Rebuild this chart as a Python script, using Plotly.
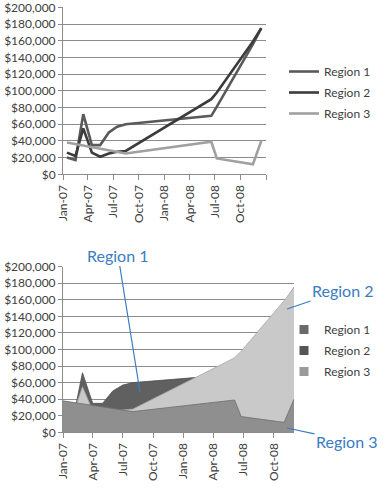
import plotly.graph_objects as go

# ---- data ----
dates = ["2007-01-15", "2007-02-15", "2007-03-15", "2007-04-15", "2007-05-15",
         "2007-06-15", "2007-07-15", "2007-08-15", "2008-06-18", "2008-07-08",
         "2008-11-15", "2008-12-15"]
region1 = [20000, 17000, 72000, 35000, 35000, 50000, 57000, 60000, 70000, 81000, 156000, 175000]
region2 = [26000, 22000, 55000, 26000, 21000, 25000, 27000, 28000, 90000, 98000, 159000, 175000]
region3 = [38000, 36000, 35000, 33000, 31000, 29000, 27000, 25000, 39000, 19000, 12000, 40000]
series_names = ["Region 1", "Region 2", "Region 3"]

top_tickvals = ["2007-01-01", "2007-04-01", "2007-07-01", "2007-10-01", "2008-01-01",
                "2008-04-01", "2008-07-01", "2008-10-01", "2009-01-01"]
top_ticktext = ["Jan-07", "Apr-07", "Jul-07", "Oct-07", "Jan-08", "Apr-08", "Jul-08", "Oct-08", ""]
bot_tickvals = ["2007-01-15", "2007-04-15", "2007-07-15", "2007-10-15", "2008-01-15",
                "2008-04-15", "2008-07-15", "2008-10-15"]
bot_ticktext = ["Jan-07", "Apr-07", "Jul-07", "Oct-07", "Jan-08", "Apr-08", "Jul-08", "Oct-08"]

W, H = 384, 491
def px(x): return min(1.0, max(0.0, x / W))
def py(y): return min(1.0, max(0.0, 1 - y / H))

FONT = "Lato"
TXT = "#404040"
GRID = "#8c8c8c"
BLUE = "#3a7cc2"

values = [region1, region2, region3]
line_colors = ["#5a5a5a", "#3c3c3c", "#a0a0a0"]
fill_colors = ["#606060", "#c9c9c9", "#8f8f8f"]
edge_colors = ["#505050", "#a8a8a8", "#6e6e6e"]
legend_sw = ["#6a6a6a", "#555555", "#9a9a9a"]

fig = go.Figure()

# top: line chart
for i, (name, vals, c) in enumerate(zip(series_names, values, line_colors)):
    fig.add_trace(go.Scatter(x=dates, y=vals, name=name, mode="lines",
                             line=dict(color=c, width=2.6), legendgroup=f"t{i}",
                             xaxis="x", yaxis="y", legend="legend"))

# bottom: overlapping area chart
for name, vals, fc, ec in zip(series_names, values, fill_colors, edge_colors):
    fig.add_trace(go.Scatter(x=dates, y=vals, name=name, mode="lines",
                             fill="tozeroy", fillcolor=fc,
                             line=dict(color=ec, width=0.8),
                             xaxis="x2", yaxis="y2", showlegend=False))
# legend swatches for bottom chart
for i, (name, c) in enumerate(zip(series_names, legend_sw)):
    fig.add_trace(go.Scatter(x=[None], y=[None], name=name, mode="markers",
                             marker=dict(symbol="square", size=9, color=c),
                             legendgroup=f"b{i}",
                             xaxis="x2", yaxis="y2", legend="legend2"))

yax = dict(range=[0, 200000], dtick=20000, tickformat="$,.0f", automargin=False,
           ticklabeloverflow="allow",
           showgrid=True, gridcolor=GRID, gridwidth=1,
           showline=True, linecolor=GRID, linewidth=1,
           ticks="outside", ticklen=4, tickcolor=GRID,
           tickfont=dict(family=FONT, size=12, color=TXT), zeroline=False)
xax = dict(type="date", tickangle=-90, automargin=False, ticklabeloverflow="allow",
           showgrid=False, showline=True, linecolor=GRID, linewidth=1,
           ticks="outside", ticklen=5, tickcolor=GRID,
           tickfont=dict(family=FONT, size=12, color=TXT))

fig.update_layout(
    width=W, height=H,
    margin=dict(l=0, r=0, t=0, b=0),
    paper_bgcolor="white", plot_bgcolor="white",
    showlegend=True,
    xaxis=dict(domain=[px(63), px(266)], anchor="y",
               range=["2007-01-01", "2009-01-01"],
               tickvals=top_tickvals, ticktext=top_ticktext, **xax),
    yaxis=dict(domain=[py(174.3), py(7.3)], anchor="x", **yax),
    xaxis2=dict(domain=[px(63), px(294)], anchor="y2",
                range=["2007-01-15", "2008-12-15"],
                tickvals=bot_tickvals, ticktext=bot_ticktext, **xax),
    yaxis2=dict(domain=[py(432.3), py(266.7)], anchor="x2", **yax),
    legend=dict(x=px(284), y=py(57), xanchor="left", yanchor="top",
                font=dict(family=FONT, size=12, color=TXT),
                traceorder="grouped", tracegroupgap=2,
                bgcolor="rgba(0,0,0,0)"),
    legend2=dict(x=px(284), y=py(315), xanchor="left", yanchor="top",
                 font=dict(family=FONT, size=12, color=TXT),
                 traceorder="grouped", tracegroupgap=2,
                 bgcolor="rgba(0,0,0,0)"),
)

annots = [("Region 1", 140, 392, -22, -137),
          ("Region 2", 287, 309, 56, -19),
          ("Region 3", 287, 428, 60, 13)]
for text, tx, ty, ax, ay in annots:
    fig.add_annotation(x=px(tx), y=py(ty), xref="paper", yref="paper",
                       text=text, showarrow=True, arrowhead=0, arrowwidth=1.2,
                       arrowcolor=BLUE, ax=ax, ay=ay, standoff=0,
                       font=dict(family=FONT, size=16, color=BLUE))

fig.write_html("out.html",
               config={"displayModeBar": False},
               post_script="document.body.style.margin='0';document.body.style.overflow='hidden';")
